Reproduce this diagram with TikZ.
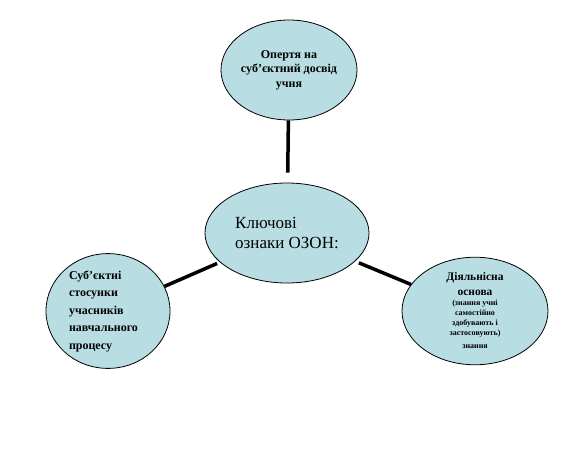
\documentclass[tikz,border=0pt]{standalone}
\usepackage{fontspec}
\setmainfont{Liberation Serif}
\usetikzlibrary{shapes.geometric}

\definecolor{ozonfill}{RGB}{184,222,228}

\tikzset{
	bubble/.style={ellipse, draw=black, line width=0.8pt, fill=ozonfill, inner sep=0pt},
	link/.style={line width=3.5pt, black},
}
\newcommand{\bigline}{\fontsize{11.5}{17}\selectfont}

\begin{document}
\begin{tikzpicture}[x=1pt, y=-1pt]

\useasboundingbox (0,0) rectangle (577,457);

% central idea
\node[bubble, minimum width=164pt, minimum height=100pt, align=left,
	font=\fontsize{17}{20}\selectfont] (key) at (287,233) {Ключові\\ознаки ОЗОН:};

% three features round it
\node[bubble, minimum width=136pt, minimum height=100pt, align=center,
	font=\bfseries\fontsize{12}{14.5}\selectfont] (exp) at (289,70)
	{\\[-6pt]Опертя на\\суб'єктний досвід\\учня};
\node[bubble, minimum width=124pt, minimum height=94pt, text width=78pt, align=left,
	font=\bfseries\fontsize{12}{17.5}\selectfont] (rel) at (108,311)
	{Суб'єктні\\стосунки\\учасників\\навчального\\процесу};
\node[bubble, minimum width=146pt, minimum height=92pt, align=center,
	font=\bfseries\fontsize{8}{10}\selectfont] (act) at (475,311)
	{\bigline Діяльнісна\\[5pt]\bigline основа\\(знання учні\\самостійно\\здобувають і\\застосовують)\\[3pt]знання};

\draw[link, shorten >=10pt] (exp) -- (key);
\draw[link, shorten >=3pt] (rel) -- (key);
\draw[link, shorten >=4pt] (act) -- (key);

\end{tikzpicture}
\end{document}
